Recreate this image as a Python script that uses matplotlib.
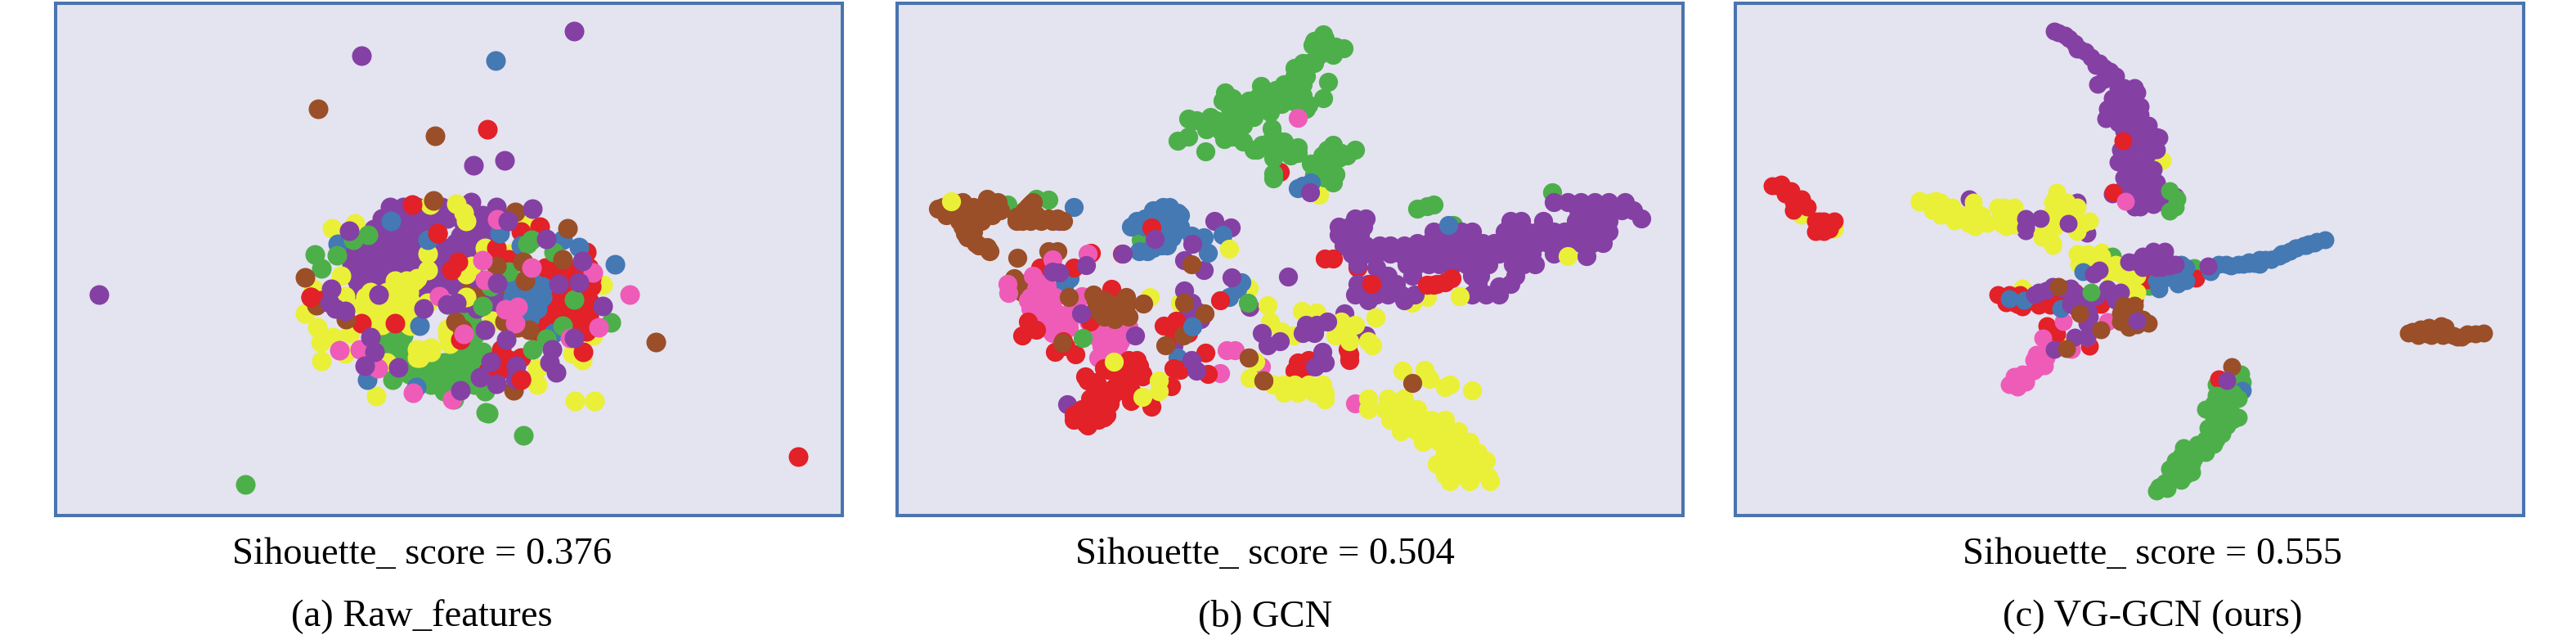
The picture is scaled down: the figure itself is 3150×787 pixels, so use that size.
import matplotlib
matplotlib.use("Agg")
import matplotlib.pyplot as plt

PURPLE = "#8540A4"; RED = "#E22128"; BLUE = "#4479B4"; GREEN = "#4DAF4A"
BROWN = "#9A4F28"; PINK = "#EE5CB8"; YELLOW = "#EAF038"
BG = "#E4E3F0"; FRAME = "#4A74AE"

captions = ["Sihouette_ score = 0.376", "Sihouette_ score = 0.504", "Sihouette_ score = 0.555"]
names = ["(a) Raw_features", "(b) GCN", "(c) VG-GCN (ours)"]

def shift(pts, dx, dy=0):
    return [(x + dx, y + dy) for x, y in pts]

# ---------- panel (a) ----------
a_green_base = [(385,560),(430,540),(400,610),(460,640),(480,680),(530,650),(580,640),(630,620),(680,600),(690,540),(650,470),(680,490),(620,560),(560,690),(620,690),(670,660),(650,720),(590,720),(580,745),(520,700),(730,740),(640,580),(700,650),
  (650,520),(370,560),(410,560),(640,560),(380,600),(430,600),(620,600),(670,600),(720,600),(440,640),(490,640),(540,640),(590,640),(640,640),(690,640),(450,680),(500,680),(550,680),(600,680),(650,680),(530,720),(640,720),(690,720),(660,480)]
a_brown_base = [(700,380),(650,375),(750,395),(770,285),(870,270),(870,340),(800,400),(760,390),(690,370)]
a_purple_base = [(385,80),(470,90),(560,105),(350,130),(430,130),(510,140),(330,190),(390,180),(450,180),(500,200),(270,250),(320,240),(380,230),(440,240),(490,250),(250,300),(300,290),(350,290),(410,280),(460,270),(265,350),(320,340),(370,320),(570,240),(620,200),(660,170),(720,100),(770,70),(700,160),(620,260),(560,300),(520,360),(570,350),(610,340),(680,230),(730,150),(815,120),(530,260),(650,130),(678,50),
  (380,70),(430,70),(480,70),(530,70),(570,70),(350,110),(400,110),(450,110),(500,110),(550,110),(590,110),(320,150),(370,150),(420,150),(470,150),(520,150),(300,195),(345,195),(395,195),(440,195),(490,195),(250,240),(295,240),(340,240),(390,240),(435,240),(480,240),(240,285),(280,285),(330,285),(375,285),(420,285),(465,285),(255,330),(300,330),(345,330),(385,330),(270,375),
  (700,130),(740,130),(640,175),(690,175),(740,175),(580,220),(630,220),(680,220),(560,265),(610,265),(540,310),(590,310),(630,310),(520,355),(565,355),(610,355),(510,400),(790,110),(650,420),(700,440),(740,430),(770,450),(780,420),(700,330),(770,320)]
a_yellow = [(400,370),(440,350),(470,340),(430,410),(380,420),(340,460),(350,500),(280,430),(440,470),(455,505),(410,460),(310,380),(168,148),(252,130),(528,60),(625,58),(650,90),(660,120),(518,240),(520,300),(200,320),(215,395),(70,460),(115,510),(125,565),(170,545),(235,530),(215,605),(128,632),(330,762),(1058,780),(1130,780),(920,720),(1085,630),(1050,605),(490,595),(530,585),(480,620),(590,515),(600,570),(590,540),(730,218),(660,315),(680,285),(755,485),(1125,540),(870,120),(820,240),(1160,355),(370,640),(920,660),(100,370),(520,420),(660,400),
  (400,340),(440,340),(480,330),(370,380),(410,380),(450,380),(300,420),(340,420),(380,420),(420,420),(460,420),(330,460),(370,460),(410,460),(450,460),(340,500),(450,500),(290,400),(480,590),(520,590),(490,620),(530,600)]
a_red = [(462,60),(556,165),(630,270),(605,300),(90,400),(125,410),(275,495),(400,495),(930,140),(860,160),(815,260),(770,220),(960,300),(1030,300),(1090,300),(1110,350),(1000,370),(985,420),(1050,440),(1100,400),(1110,470),(940,450),(970,470),(1030,480),(1100,525),(915,525),(1100,235),(790,590),(780,640),(820,630),(860,620),(860,700),(760,660),(1090,600),(640,555),(1120,360),(738,-216),(1878,984),
  (950,290),(990,290),(1070,290),(1110,290),(970,330),(1010,330),(1090,330),(1120,330),(980,370),(1020,370),(1060,370),(980,410),(1020,410),(1070,410),(1110,410),(920,450),(1000,450),(1090,450),(950,490),(1060,490),(1100,490),(770,630),(800,630),(740,670),(780,670)]
a_blue = [(385,120),(190,205),(782,165),(845,360),(900,340),(940,370),(880,400),(900,460),(840,400),(1015,190),(1075,215),(860,210),(490,505),(298,703),(478,728),(1206,278),(980,530),(520,190),(768,-468),
  (830,360),(870,360),(910,360),(940,360),(830,400),(870,400),(910,400),(940,400),(880,440),(920,440),(890,480)]
a_green = [(105,243),(130,295),(185,245),(245,190),(885,205),(900,190),(980,235),(815,305),(750,360),(720,433),(1055,408),(1015,503),(955,553),(903,590),(1190,492),(390,703),(590,745),(730,745),(742,826),(615,775),(300,170),(-150,1086),(870,906),(732,822)]
a_brown = [(70,328),(110,430),(840,88),(1032,148),(868,270),(1015,260),(875,340),(220,480),(540,45),(770,285),(835,740),(890,520),(645,515),(620,490),(117,-291),(546,-192),(1356,564),(800,490),(850,510)]
a_pink = [(775,115),(720,265),(900,290),(1125,310),(1260,390),(850,435),(805,445),(840,495),(1145,510),(560,395),(730,335),(270,590),(195,595),(335,660),(465,750),(610,775),(1040,550),(650,535)]
a_purple = [(230,155),(165,370),(340,390),(180,440),(215,450),(160,420),(505,440),(590,425),(625,420),(775,348),(1075,345),(1085,268),(812,120),(955,185),(1162,433),(808,555),(1055,550),(310,545),(325,600),(287,650),(410,658),(750,635),(842,650),(712,693),(772,718),(975,590),(965,640),(990,675),(840,700),(640,740),(730,520),(903,76),(1000,350),(-687,390),(1056,-576),(276,-486),(687,-84),(801,-102)]
a_red_top = [(860,703),(90,400),(556,165)]
a_layers = [(GREEN,a_green_base),(BROWN,a_brown_base),(PURPLE,a_purple_base),(YELLOW,a_yellow),(RED,a_red),(BLUE,a_blue),(GREEN,a_green),(BROWN,a_brown),(PINK,a_pink),(PURPLE,a_purple),(RED,a_red_top)]

# ---------- panel (b) ----------
b_green_read = [(595,65),(555,105),(600,120),(670,118),(630,140),(490,190),(540,170),(612,240),(595,300),(540,325),(520,250),(470,250),(420,270),(365,255),(350,300),(430,320),(400,350),(480,310),(235,280),(260,300),(225,310),(300,330),(340,370),(290,380),(250,370),(180,370),(100,375),(165,415),(230,450),(270,420),(60,455),(100,440),(162,495),(300,460),(350,490),(400,460),(405,410),(450,460),(500,480),(475,510),(410,520),(412,575),(550,540),(610,490),(630,470),(710,490),(650,520),(625,590),(560,580),(680,510),
  (560,90),(600,80),(640,110),(580,140),(520,170),(560,170),(490,220),(530,220),(480,270),(520,290),(440,290),(400,290),(360,290),(320,310),(450,250),(400,330),(330,370),(290,340),(250,330),(200,380),(220,420),(260,440),(170,400),(130,380),(300,400),(340,340),(440,320),(500,320),(530,340),(410,440),(420,490),(370,470),(340,490),(460,490),(500,500),(400,480),(590,510),(570,550),(620,530),(660,500),(600,590),(640,580)]
b_band_read = [(470,140),(510,140),(410,170),(450,170),(500,170),(410,200),(450,200),(490,200),(430,240),(470,240),(510,240),(560,240),(600,240),(650,240),(460,270),(510,270),(550,270),(600,270),(640,270),(680,270),(720,270),(760,270),(800,270),(840,270),(880,270),(920,270),(960,270),(1000,270),(1040,270),(1080,270),(1120,270),
  (700,230),(740,230),(780,230),(820,230),(860,230),(900,230),(940,230),(980,230),(1020,230),(1060,230),(1100,230),(1140,230),(1180,230),(1220,230),(1260,230),(1300,230),(1340,230),(1380,230),
  (760,190),(800,190),(860,190),(900,190),(1020,190),(1060,190),(1100,190),(1140,190),(1200,190),(1240,190),(1280,190),(1320,190),(1360,190),(1400,190),
  (1040,150),(1080,150),(1160,150),(1280,150),(1320,150),(1360,150),(1400,150),(1290,110),(1330,110),(1370,110),(1410,110),(1450,110),(1490,110),(1200,80),(1250,80),(1300,80),(1350,80),(1400,80),(1460,80),
  (480,310),(660,310),(700,310),(740,310),(780,310),(830,310),(880,310),(920,310),(960,310),(1050,310),(1090,310),(1130,310),(680,350),(900,350),(930,350),(1060,350),
  (480,380),(520,380),(580,380),(620,380),(920,380),(1000,390),(1040,380),(470,420),(510,420),(550,420),(590,420),(640,420),(690,420),(900,420),(950,420),(1000,420),(550,320),(560,350),(590,350),(520,440),(650,440),(1520,142),(1200,270),(1320,280)]
b_yellow_read = [(520,800),(590,800),(650,800),(520,840),(580,840),(640,840),(700,840),(600,880),(650,880),(700,880),(750,880),(800,880),(640,920),(700,920),(760,920),(820,920),(850,920),(720,960),(780,960),(840,960),(890,960),(800,1000),(860,1000),(920,1000),(770,1040),(820,1040),(870,1040),(920,1040),(950,1030),(800,1080),(850,1080),(900,1080),(960,1090),(820,1105),(890,1105),(965,1105),(645,700),(725,695),(745,730),(820,750),(800,760),(900,770),
  (170,750),(210,750),(250,750),(300,750),(350,750),(210,780),(260,780),(320,780),(360,780),(360,805),(430,550),(400,570),(450,590),(520,590),(420,520),(470,530),(535,605),(150,460),(160,520),(200,555),(245,570),(275,480),(330,485),(545,505),(1250,278),(855,425)]
b_purple_read = [(290,530),(330,530),(370,520),(280,560),(320,560),(130,560),(150,605),(195,590),(350,630),(325,685),(360,670)]
b_red_read = [(390,287),(360,287),(260,670),(290,690),(250,700),(270,710),(300,660),(445,620),(450,660),(450,640),(735,385),(770,380),(800,375),(825,360)]
b_brown_read = [(682,745),(80,650),(135,735)]

b_red_under = [(1365,-30),(485,320),(672,268),(1650,320),(1650,300)]
b_yellow_under = [(1510,55),(888,430),(1000,450),(1905,430),(1850,450),(1250,395),(735,770),(2025,425)]
b_green_small = [(365,90),(470,70),(515,72),(855,220),(1870,105),(1905,97),(1930,90),(2365,45),(2000,165),(1560,10),(1340,-5)]
b_purple_under = [(555,150),(585,823),(1015,405),(1040,450),(1075,510),(1060,480),(1030,490),(1125,150),(1185,175),(1255,465),(975,605),(1015,295),(1085,330),(1680,570),(1602,490)]
b_blue = [(935,100),(990,120),(900,135),(835,165),(960,150),(1000,170),(940,200),(980,190),(850,260),(900,250),(950,240),(1040,205),(1085,210),(1100,268),(610,98),(1155,200),(1225,375),(1210,400),(1180,430),(1450,20),(1480,10),(1430,30),(990,650),(595,360),(575,380),
  (930,130),(900,110),(960,100),(1000,130),(870,140),(840,150),(930,170),(870,170),(960,170),(990,150),(970,210),(930,240),(880,260),(820,170)]
b_brown = [(110,105),(140,130),(175,85),(200,110),(220,150),(260,130),(310,85),(340,110),(270,100),(230,110),(210,195),(250,230),(300,260),(270,150),(240,190),(440,100),(420,150),(470,130),(515,140),(460,80),(570,150),(400,135),(403,285),(515,262),(550,262),(390,360),(440,375),(420,410),(1040,310),
  (130,100),(170,130),(200,80),(190,150),(230,140),(240,100),(280,120),(310,130),(330,80),(290,70),(250,160),(200,170),(220,210),(260,240),(290,245),(230,180),(420,130),(450,90),(450,150),(490,150),(530,150),(550,140),(430,110),(400,150)]
b_pink = [(530,290),(660,270),(365,380),(370,415),(460,350),(450,430),(450,470),(500,380),(490,430),(530,440),(510,480),(550,490),(520,545),(590,520),(640,425),(662,520),(700,580),(750,560),(790,560),(740,600),(710,640),(770,610),(800,530),(750,530),(1145,708),(1170,625),(1200,625),(1295,685),(1430,-228),(1640,820),
  (440,440),(470,400),(510,390),(480,450),(520,470),(470,490),(540,430),(500,510),(540,520),(570,500),(600,480),(590,540),(530,560),(700,550),(730,580),(770,530),(810,540),(710,610),(750,620),(700,650),(780,590)]
b_red = [(610,320),(748,398),(670,520),(450,540),(420,570),(470,550),(440,520),(570,590),(540,630),(615,640),(580,610),(735,695),(780,680),(830,670),(860,710),(800,720),(660,735),(695,750),(790,770),(750,790),(820,810),(700,830),(660,830),(610,860),(650,890),(700,880),(730,860),(895,830),(965,755),(785,270),(893,175),(1145,440),(940,535),(985,515),(1010,545),(975,560),(1030,560),(1092,632),(975,690),(1000,695),(1100,710),
  (700,800),(740,820),(670,800),(640,840),(610,880),(680,860),(720,850),(760,760),(800,760),(810,700),(850,680),(780,720),(830,710),(860,720),(820,770),(840,690),(720,690),(760,670),(810,660),(840,660),(690,740),(650,720),(630,860),(660,900),(720,870)]
b_brown_2 = [(592,430),(690,440),(720,490),(760,490),(800,460),(865,453),(700,480),(800,490),(568,597),(1015,450),(1090,490),(1010,570),(945,607),
  (680,420),(720,440),(690,470),(730,460),(760,510),(800,430),(780,490),(810,500),(720,500),(760,460),(1250,650)]
b_purple = [(530,335),(555,340),(653,313),(637,490),(833,570),(905,215),(1045,235),(790,270),(1187,358),(1395,355),(1040,660),(1060,700),(1475,45)]
b_red_top = [(1700,380),(1930,385)]
b_green_2 = [(642,580),(1248,450)]
b_blue_2 = [(1043,537),(1982,165)]
b_yellow_top = [(158,78),(1180,253),(755,665),(920,735),(920,775),(860,795),(1275,665),(1255,727),(1715,505)]
b_brown_3 = [(1305,735)]
b_layers = [(RED,b_red_under),(YELLOW,b_yellow_under),(GREEN,shift(b_green_read,930,-600)),(GREEN,b_green_small),(PURPLE,b_purple_under),(BLUE,b_blue),(BROWN,b_brown),(PINK,b_pink),(RED,b_red),(BROWN,b_brown_2),(PURPLE,shift(b_band_read,1170)),(RED,shift(b_red_read,1170)),(YELLOW,shift(b_yellow_read,1170)),(PURPLE,shift(b_purple_read,1170)),(PURPLE,b_purple),(RED,b_red_top),(GREEN,b_green_2),(BLUE,b_blue_2),(YELLOW,b_yellow_top),(BROWN,b_brown_3),(BROWN,shift(b_brown_read,1170))]

# ---------- panel (c) ----------
c_spine_read = [(215,85),(255,100),(290,130),(300,150),(330,160),(380,200),(420,230),(375,280),(470,290),(520,310),(430,330),(490,340),(410,370),(530,360),(405,405),(470,400),(560,430),(600,475),(470,450),(530,450),(460,520),(540,510),(590,520),(450,565),(520,570),(580,590),(470,620),(540,630),(590,640),(430,680),(530,730),(580,720),(560,680),(660,690),(500,690),
  (230,90),(270,110),(310,150),(350,180),(400,220),(370,210),(440,250),(400,260),(450,290),(510,290),(500,330),(440,370),(480,380),(530,390),(410,400),(450,420),(510,430),(560,450),(510,470),(560,480),(590,470),(500,510),(560,530),(490,550),(550,560),(480,590),(530,590),(570,610),(500,640),(570,650),(610,680),(470,660),(530,680),(580,700),(510,730),(630,720),(620,680)]
c_red_left_read = [(130,110),(160,140),(215,180),(240,190),(285,240),(330,250),(300,280),(110,110),(145,105),(180,130),(190,170),(190,200),(270,240),(300,240),(340,240),(270,280),(320,270),(220,160)]
c_yellow_left_read = [(650,170),(710,165),(750,190),(730,220),(790,235),(850,170),(860,240),(850,190),(940,190),(1000,190),(950,250),(1000,255),(1155,135),(1150,195),(1210,190),(1150,240),(1275,240),(1100,290),(1140,330),(1225,270),(1250,365),
  (650,165),(690,170),(730,170),(770,190),(810,220),(880,220),(950,220),(1000,220),(960,190),(780,240),(830,250),(900,250),(990,250),(700,200),(740,210),(1140,170),(1190,170),(1130,220),(1200,220),(1230,190),(1150,260),(1250,250),(1100,300),(1140,320),(1230,280),(1170,200)]

c_yellow_under = [(972,-252),(-350,-50),(-230,0),(750,85),(460,215),(610,430)]
c_purple_under = [(265,-110),(580,-100),(660,-100),(695,15),(470,5),(690,10)]
c_green_1 = [(1000,-140),(1020,-80),(1000,-65),(1025,-110),(790,100),(925,210),(1090,140)]
c_red_1 = [(828,-325),(792,-135),(1095,180),(370,240),(410,240),(450,240),(440,275),(400,270),(530,270),(570,270),(600,240),(650,230),(748,275),(870,260),(550,355),(585,385),(705,430),(915,185),(390,250),(430,270),(460,285),(520,280),(560,280),(590,250)]
c_pink_1 = [(836,-102),(770,340),(610,340),(535,400),(695,395),(640,440),(570,440),(545,470),(520,490),(480,530),(450,550),(425,565),(510,460),(540,500),(500,480),(460,530),(510,510),(430,540),(410,570),(440,580),(470,560),(530,480),(500,520),(550,440),(520,460)]
c_yellow = [(680,105),(730,105),(690,140),(795,155),(860,170),(860,225),(660,90),(700,90),(750,100),(665,130),(800,130),(770,160),(830,170),(880,170),(850,210),(880,230),(285,-10),(400,-10)]
c_blue = [(680,155),(950,190),(1045,160),(1035,185),(1060,140),(1150,155),(1205,130),(1250,130),(1290,125),(1330,130),(1350,110),(1400,100),(1440,80),(1490,60),(1530,50),(1290,120),(1330,110),(1370,110),(1410,90),(1460,70),(1500,60),(1540,45),(1570,40),(410,255),(465,260),(600,290),
  (1180,130),(1225,135),(1270,130),(1310,125),(1370,110),(1420,90),(1465,70),(1510,55),(1040,130),(1060,190),(980,180),(960,220),(1030,200)]
c_purple = [(627,-22),(470,-40),(470,-5),(525,-40),(720,165),(740,150),(880,120),(960,90),(930,125),(1000,135),(970,140),(1140,135),(505,240),(545,225),(635,215),(785,235),(635,275),(690,270),(705,320),(695,345),(650,395),(695,395),(575,440),
  (520,230),(570,210),(610,220),(660,240),(660,290),(700,300),(730,245),(770,220),(800,260),(820,230),(900,100),(850,120),(990,120),(1020,130),(940,80),(980,80),(900,140),(950,140)]
c_green_2 = [(710,230)]
c_brown = [(1875,380),(1920,365),(1995,355),(1960,390),(2040,390),(2090,385),(2150,380),(1910,390),(2055,395),(2000,390),(670,310),(845,290),(830,340),(880,350),(820,310),(870,310),(920,345),(850,360),(748,370),(620,438),(592,210),
  (1890,375),(1940,385),(1975,370),(2020,385),(2070,395),(2120,385),(1950,360),(2010,360),(820,340),(860,330),(900,330),(830,280),(870,280)]
c_purple_2 = [(878,335)]
c_brown_2 = [(1228,505)]
c_green_3 = [(1260,530),(1265,560),(1170,570)]
c_red_2 = [(1180,550)]
c_purple_3 = [(1210,555)]
c_blue_3 = [(1265,590)]
c_green_4 = [(1190,610),(1250,620),(1150,660),(1200,640),(1250,690),(1180,720),(1150,760),(1160,790),(1100,790),(1040,830),(1090,840),(1030,870),(1080,890),(1010,910),(960,945),(1000,925),(1060,860),(1130,770),
  (1170,700),(1200,680),(1220,660),(1230,700),(1160,690),(1140,730),(1190,750),(1130,820),(1070,810),(1050,800),(1060,830),(1110,820),(1040,860),(1080,860),(1060,900),(1000,880),(1030,900),(1020,850),(980,930),(1040,920),(950,960),(990,950),(1170,770),(1210,720),(1160,640),(1170,610),(1230,600),(1220,640),(1130,660)]
c_layers = [(YELLOW,c_yellow_under),(PURPLE,shift(c_spine_read,360,-810)),(PURPLE,c_purple_under),(GREEN,c_green_1),(RED,c_red_1),(RED,shift(c_red_left_read,-570,-270)),(PINK,c_pink_1),(YELLOW,shift(c_yellow_left_read,-570,-270)),(YELLOW,c_yellow),(BLUE,c_blue),(PURPLE,c_purple),(GREEN,c_green_2),(BROWN,c_brown),(PURPLE,c_purple_2),(GREEN,c_green_3),(BROWN,c_brown_2),(RED,c_red_2),(BLUE,c_blue_3),(GREEN,c_green_4),(PURPLE,c_purple_3)]

W, H = 3150, 787
fig = plt.figure(figsize=(W/100, H/100), dpi=100, facecolor="white")

panels = [
    # frame in figure pixels, reading origin, layers, marker area, caption centre
    ((68, 1030, 4, 630), (350, 230), a_layers, 300, 516),
    ((1097, 2058, 4, 630), (1110, 220), b_layers, 280, 1541),
    ((2122, 3086, 4, 630), (2320, 280), c_layers, 250, 2620),
]
caption_shift = [0, 6, 12]
for i, ((l, r, t, b), (ox, oy), layers, area, cx) in enumerate(panels):
    ax = fig.add_axes([l/W, 1-b/H, (r-l)/W, (b-t)/H])
    ax.set_facecolor(BG)
    ax.set_xlim((l-ox)*3, (r-ox)*3)
    ax.set_ylim((b-oy)*3, (t-oy)*3)
    ax.set_xticks([]); ax.set_yticks([])
    for s in ax.spines.values():
        s.set_color(FRAME); s.set_linewidth(2.9)
    for z, (col, pts) in enumerate(layers):
        xs = [p[0] for p in pts]; ys = [p[1] for p in pts]
        ax.scatter(xs, ys, s=area, c=col, linewidths=0, zorder=2+z)
    fig.text((cx+caption_shift[i])/W, 1-678/H, captions[i], ha="center", va="center", family="Liberation Serif", fontsize=33.6, color="black")
    fig.text((cx+caption_shift[i])/W, 1-754/H, names[i], ha="center", va="center", family="Liberation Serif", fontsize=33.6, color="black")

fig.savefig("out.png", dpi=100, facecolor="white")
